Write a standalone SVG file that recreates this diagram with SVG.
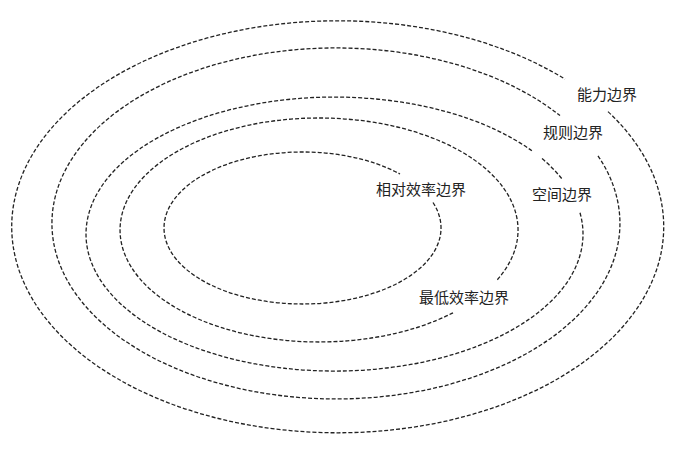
<svg xmlns="http://www.w3.org/2000/svg" width="677" height="450" viewBox="0 0 677 450">
  <style>
    .b { fill: none; stroke: #222; stroke-width: 1.3; stroke-dasharray: 4 2; }
    .t { font-family: "Noto Sans CJK SC", "Noto Sans", sans-serif; font-size: 15px; fill: #222; }
  </style>
  <rect width="677" height="450" fill="#fff"/>
  <g id="connectors">
    <path id="b1" class="b" d="M 608 111.6 A 326 206 0 1 1 565 79.1"/>
    <path id="b2" class="b" d="M 598 155.8 A 284 175.5 0 1 1 560 115.6"/>
    <path id="b3a" class="b" d="M 580 212.8 A 248.5 137 0 1 1 532 150.9"/>
    <path id="b3b" class="b" d="M 542 158.6 A 248.5 137 0 0 1 562 178.9"/>
    <path id="b4" class="b" d="M 453 312.8 A 199 112 0 1 1 497 280.1"/>
    <path id="b5" class="b" d="M 433 202.5 A 138.5 76 0 1 1 400 174"/>
  </g>
  <g id="label-nengli"><text class="t" x="577" y="100">能力边界</text></g>
  <g id="label-guize"><text class="t" x="543" y="138">规则边界</text></g>
  <g id="label-kongjian"><text class="t" x="532" y="200">空间边界</text></g>
  <g id="label-xiangdui"><text class="t" x="376" y="195">相对效率边界</text></g>
  <g id="label-zuidi"><text class="t" x="419" y="303">最低效率边界</text></g>
</svg>
